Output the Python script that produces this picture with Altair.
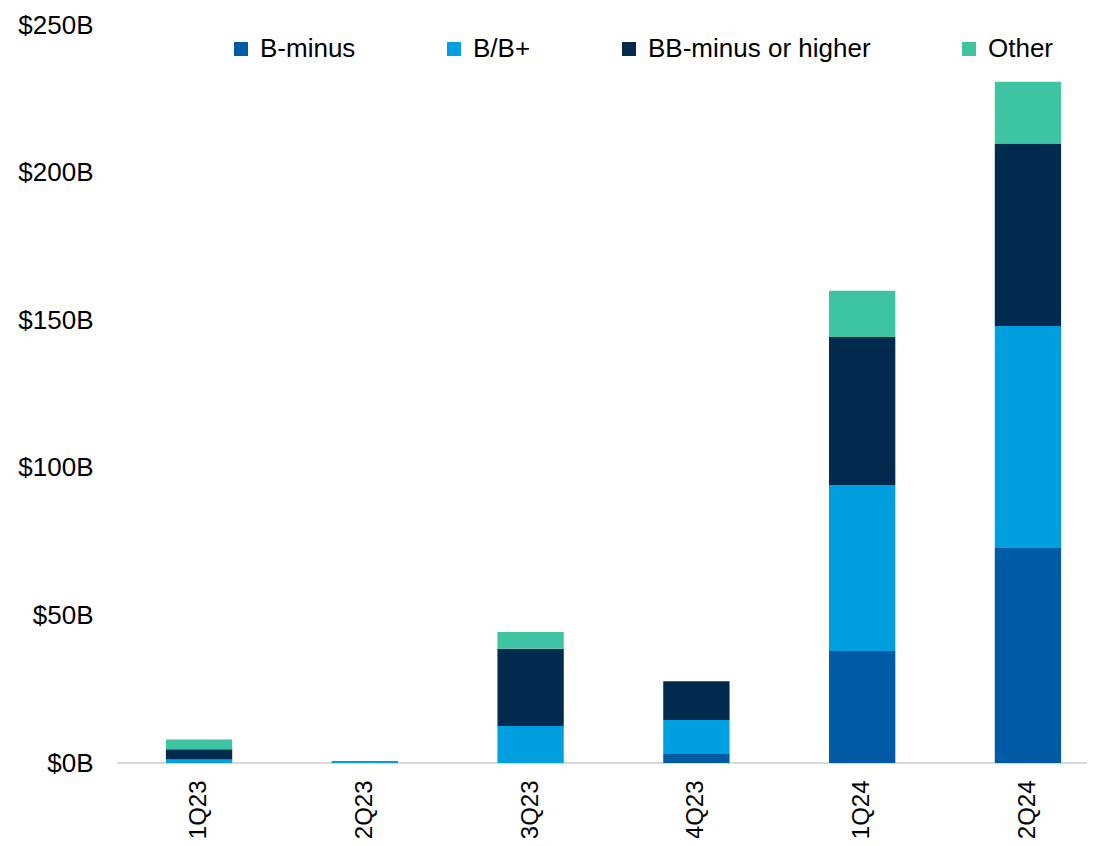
import altair as alt
import pandas as pd

quarters = ["1Q23", "2Q23", "3Q23", "4Q23", "1Q24", "2Q24"]
series = ["B-minus", "B/B+", "BB-minus or higher", "Other"]
colors = ["#005BA6", "#009FE0", "#002B4F", "#3EC3A3"]

b_minus = [0.0, 0.0, 0.0, 3.3, 37.9, 72.8]
b_bplus = [1.2, 0.7, 12.5, 11.3, 56.3, 75.2]
bb_higher = [3.5, 0.0, 26.2, 13.1, 50.1, 61.9]
other = [3.3, 0.0, 5.7, 0.0, 15.7, 20.9]

y_ticks = [0, 50, 100, 150, 200, 250]

rows = []
for vals, name, k in zip([b_minus, b_bplus, bb_higher, other], series, range(4)):
    for q, v in zip(quarters, vals):
        rows.append({"quarter": q, "series": name, "value": v, "order": k})
df = pd.DataFrame(rows)

FONT = "Liberation Sans"

bars = alt.Chart(df).mark_bar().encode(
    x=alt.X(
        "quarter:N",
        sort=quarters,
        scale=alt.Scale(range=[0, 993], paddingInner=0.6, paddingOuter=0.295),
        axis=alt.Axis(
            title=None, labelAngle=270, labelFontSize=24, labelFont=FONT,
            labelColor="black", ticks=False, domain=False, labelPadding=17,
        ),
    ),
    y=alt.Y(
        "value:Q",
        stack="zero",
        scale=alt.Scale(domain=[0, 250], nice=False),
        axis=alt.Axis(
            title=None, values=y_ticks, labelExpr="'$' + datum.value + 'B'",
            grid=False, domain=False, ticks=False, labelFontSize=26,
            labelFont=FONT, labelColor="black", labelPadding=24,
        ),
    ),
    color=alt.Color(
        "series:N",
        scale=alt.Scale(domain=series, range=colors),
        legend=alt.Legend(
            title=None, orient="none", legendX=111, legendY=11,
            direction="horizontal", symbolType="square", symbolSize=196,
            symbolStrokeWidth=0, labelFontSize=26, labelFont=FONT,
            labelColor="black", columnPadding=85, labelOffset=6,
            labelLimit=400, padding=0,
        ),
    ),
    order=alt.Order("order:Q", sort="ascending"),
)

base = alt.Chart(pd.DataFrame({"v": [0]})).mark_rule(
    color="#D9D9D9", strokeWidth=2
).encode(y=alt.Y("v:Q"), x=alt.value(0), x2=alt.value(970))

chart = alt.layer(base, bars).properties(
    width=970, height=738,
    padding={"left": 109, "top": 17, "right": 0, "bottom": 75},
    autosize=alt.AutoSizeParams(type="none"),
).configure(font=FONT).configure_view(strokeWidth=0, stroke=None)

chart.save("out.html", embed_options={"renderer": "svg", "actions": False})
